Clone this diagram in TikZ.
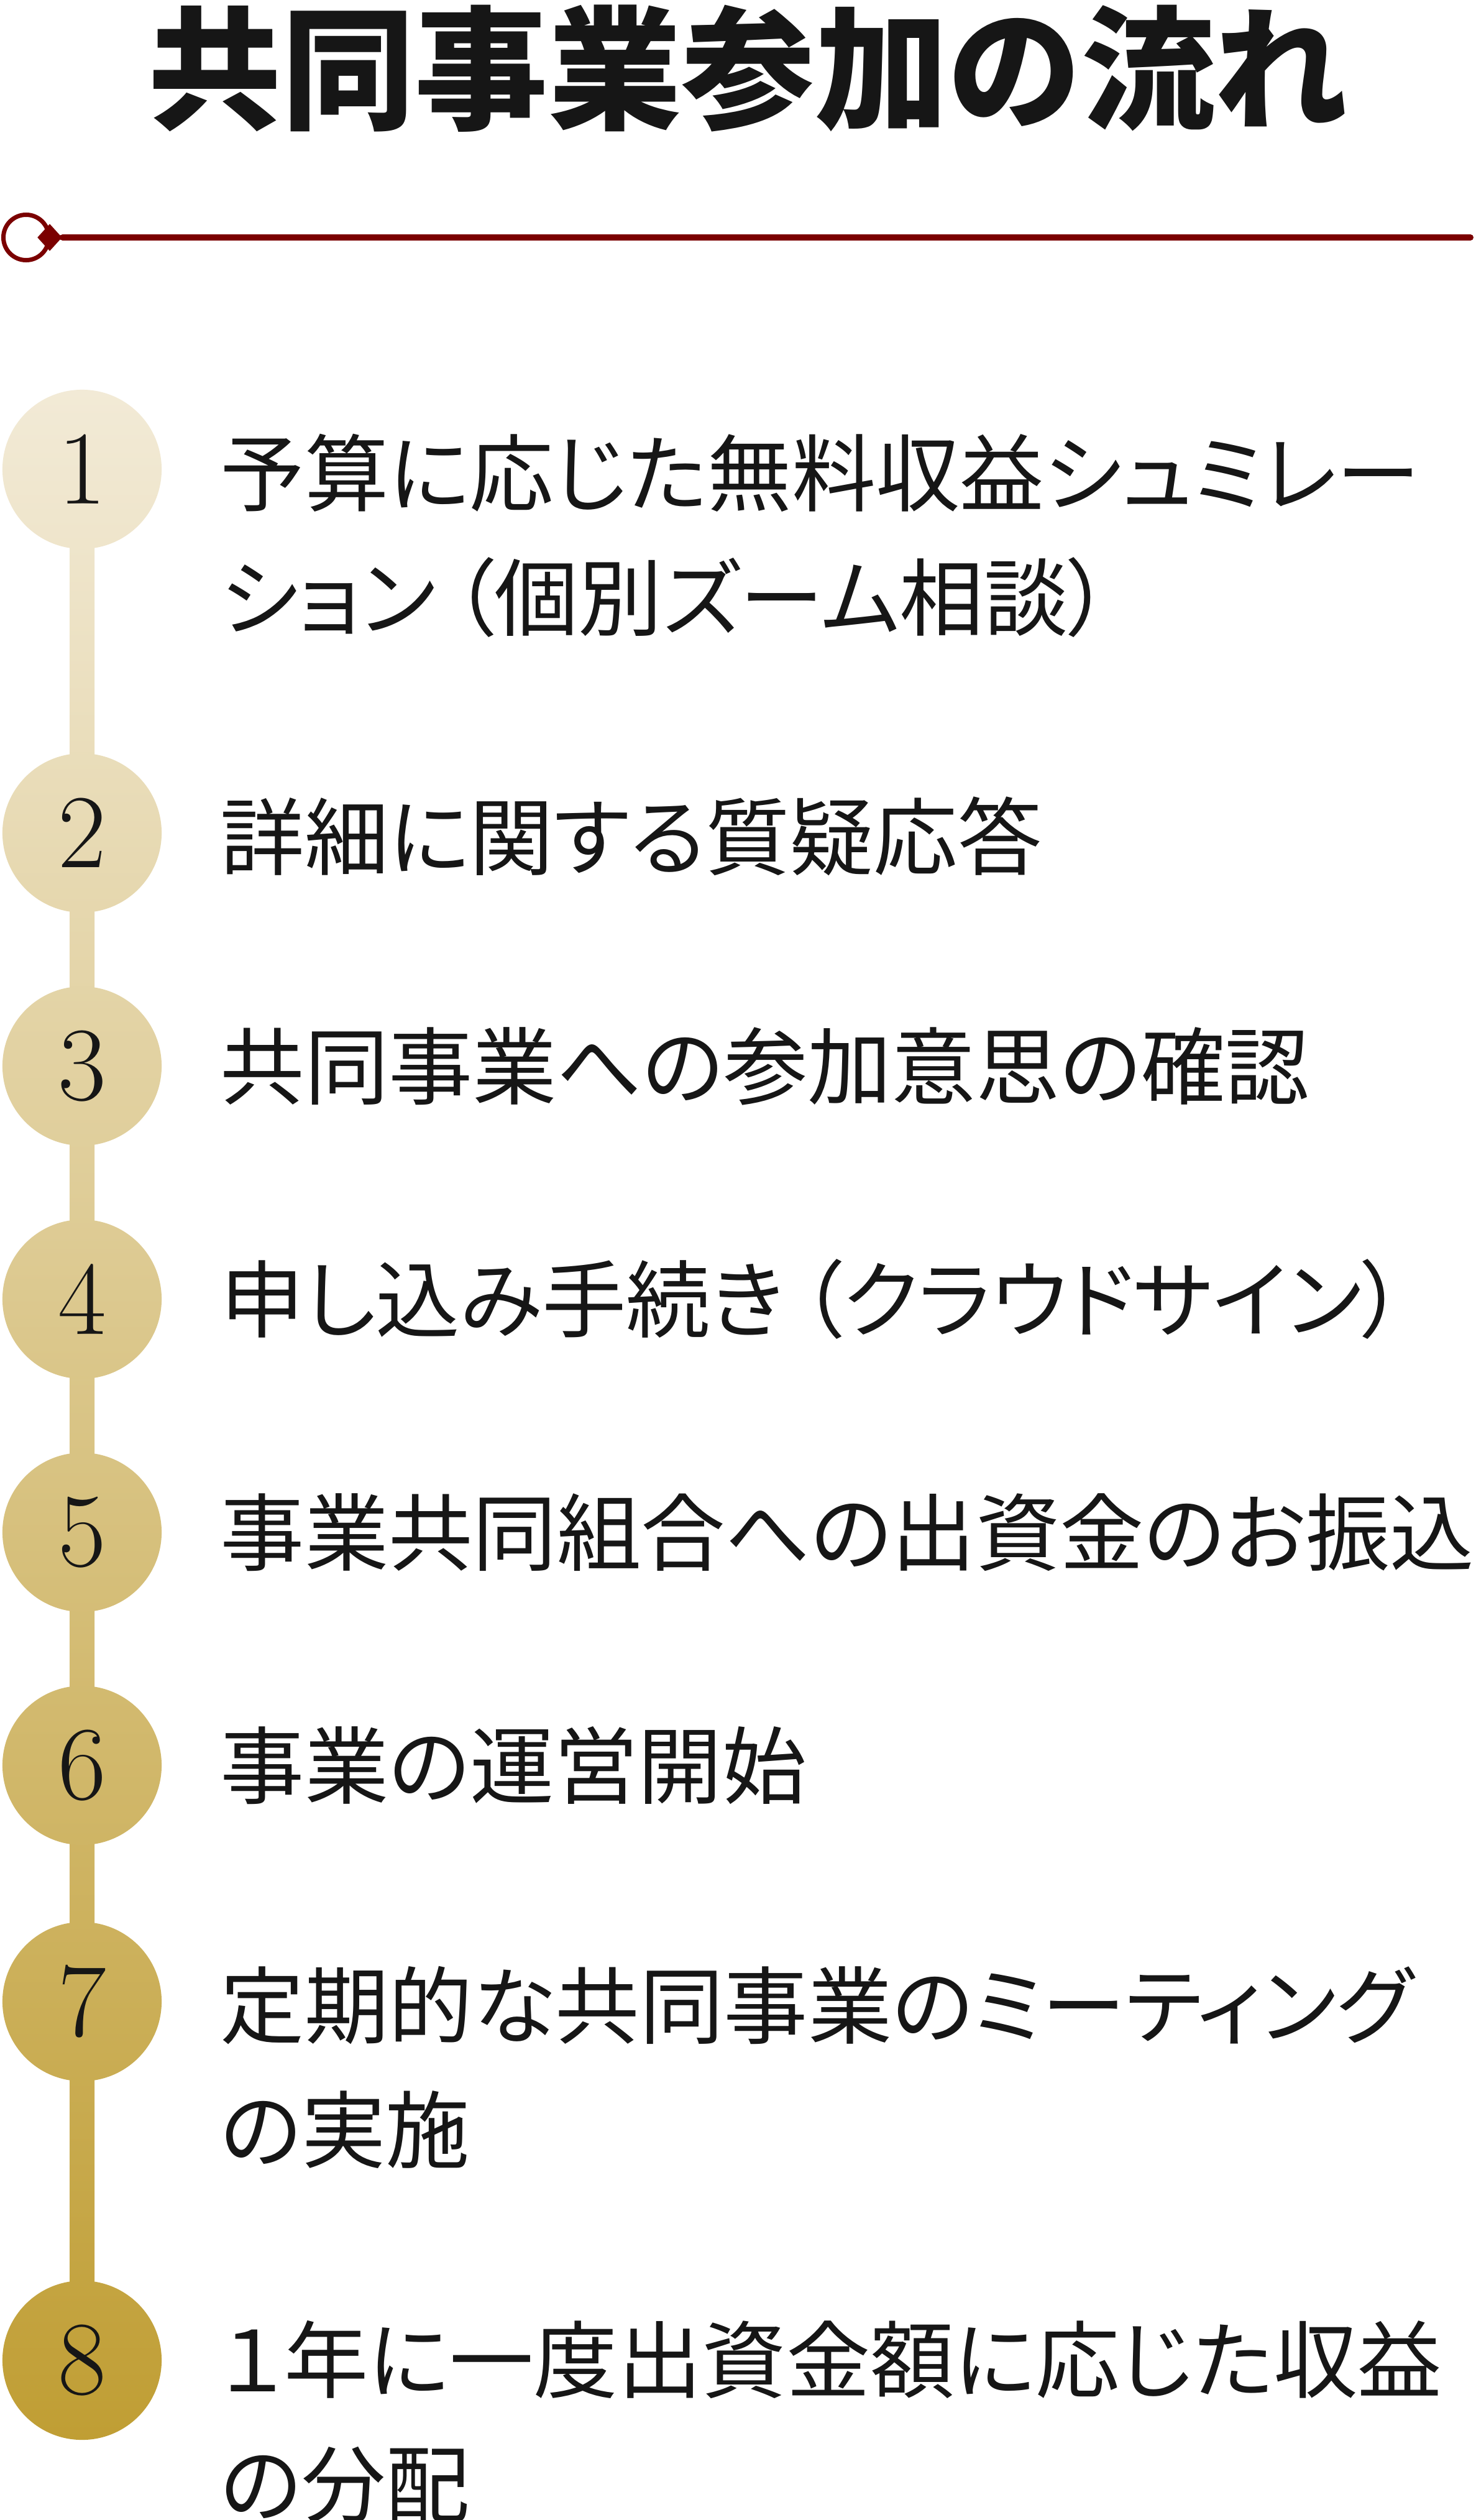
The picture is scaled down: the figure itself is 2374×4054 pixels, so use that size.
\documentclass[tikz,border=0pt]{standalone}
\usepackage{fontspec}
\newfontfamily\cjk[RawFeature=+palt]{Noto Sans CJK JP}
\newfontfamily\cjkt{Noto Sans CJK JP}
\newcommand\lpar{\hspace{0.2em}（}
\usetikzlibrary{shapes.geometric,backgrounds,calc}
\definecolor{dred}{RGB}{123,0,0}
\definecolor{ink}{RGB}{22,22,22}
\definecolor{gTop}{RGB}{242,234,214}
\definecolor{gBot}{RGB}{192,158,52}
\begin{document}
\begin{tikzpicture}[x=0.01cm,y=-0.01cm,
  numc/.style={circle, minimum size=2.56cm, inner sep=0pt, text=ink, font=\fontsize{48}{48}\selectfont},
  itemtext/.style={anchor=west, inner sep=0pt, text=ink, align=left, font=\cjk\fontsize{38.5}{57}\selectfont},
  barstyle/.style={draw=none}
]
\useasboundingbox (0,0) rectangle (2374,4054);

% title
\node[font=\cjkt\bfseries\fontsize{61}{61}\selectfont, text=ink, inner sep=0pt] (title) at (1204,110) {共同事業参加の流れ};

% ornament line
\node[circle, draw=dred, line width=0.07cm, minimum size=0.73cm, inner sep=0pt] (ring) at (42,382) {};
\node[diamond, fill=dred, minimum width=0.4cm, minimum height=0.44cm, inner sep=0pt] (dia) at (80,382) {};
\coordinate (lineend) at (2366,382);
\draw[dred, line width=0.1cm, line cap=round] (dia.east) -- (lineend);

% number circles
\foreach \i/\y in {1/755,2/1340,3/1715,4/2090,5/2465,6/2840,7/3220,8/3797}{
  \pgfmathtruncatemacro\ft{max(0,(\y-128-627)/32.98)}
  \pgfmathtruncatemacro\fb{min(100,(\y+128-627)/32.98)}
  \colorlet{ctop}{gBot!\ft!gTop}
  \colorlet{cbot}{gBot!\fb!gTop}
  \node[numc, top color=ctop, bottom color=cbot] (c\i) at (132,\y) {\i};
}

% connecting bars
\begin{scope}[on background layer]
\fill[white] (0,0) rectangle (2374,4054);
\foreach \a/\b/\ya/\yb in {1/2/755/1340,2/3/1340/1715,3/4/1715/2090,4/5/2090/2465,5/6/2465/2840,6/7/2840/3220,7/8/3220/3797}{
  \pgfmathtruncatemacro\ft{(\ya-627)/32.98}
  \pgfmathtruncatemacro\fb{(\yb-627)/32.98}
  \colorlet{btop}{gBot!\ft!gTop}
  \colorlet{bbot}{gBot!\fb!gTop}
  \shade[barstyle, top color=btop, bottom color=bbot] ($(c\a.center)+(-20,0)$) rectangle ($(c\b.center)+(20,0)$);
}
\end{scope}

% item texts
\node[itemtext] (t1) at (354,862) {予算に応じた無料収益シュミレー\\ション\lpar 個別ズーム相談）};
\node[itemtext] (t2) at (354,1345) {詳細に関する質疑応答};
\node[itemtext] (t3) at (354,1715) {共同事業への参加意思の確認};
\node[itemtext] (t4) at (354,2090) {申し込み手続き\lpar クラウドサイン）};
\node[itemtext] (t5) at (354,2465) {事業共同組合への出資金のお振込};
\node[itemtext] (t6) at (354,2840) {事業の運営開始};
\node[itemtext] (t7) at (354,3326) {定期的な共同事業のミーティング\\の実施};
\node[itemtext] (t8) at (354,3896) {１年に一度出資金額に応じた収益\\の分配};
\end{tikzpicture}
\end{document}
